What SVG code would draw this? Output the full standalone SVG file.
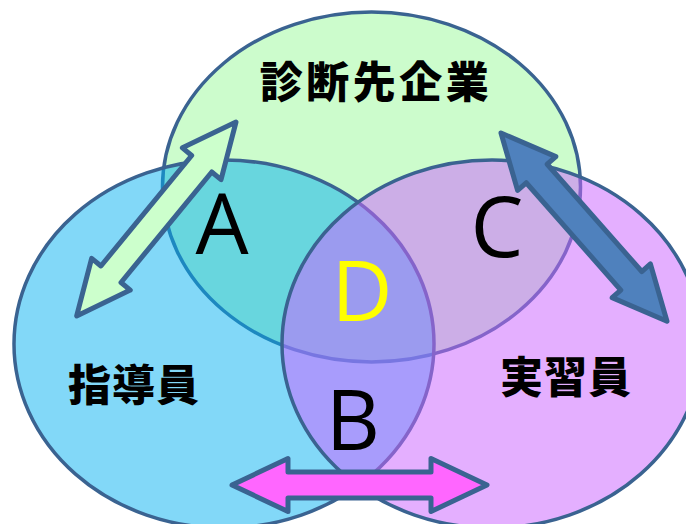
<svg xmlns="http://www.w3.org/2000/svg" width="686" height="524" viewBox="0 0 686 524">
<style>
.c{stroke:#3A6391;stroke-width:3.5}
.arr{stroke:#3A6391;stroke-width:5;stroke-linejoin:round}
.jp{font-family:"Noto Sans CJK JP","Noto Sans CJK SC",sans-serif;font-weight:900;font-size:43px;fill:#000;text-anchor:middle}
.lt{font-family:"Open Sans","Liberation Sans",sans-serif;font-size:84px;text-anchor:middle}
</style>
<rect width="686" height="524" fill="#fff"/>
<g id="node-shindan">
<ellipse class="c" cx="371.5" cy="187" rx="209" ry="175" fill="#CCFCCC"/>
</g>
<g id="node-shidouin">
<ellipse class="c" cx="224" cy="344" rx="210" ry="184" fill="#00B0F0" fill-opacity="0.49"/>
</g>
<g id="node-jisshuin">
<ellipse class="c" cx="492" cy="344" rx="210" ry="184" fill="#CC66FF" fill-opacity="0.52"/>
</g>
<g id="connectors">
<polygon class="arr" fill="#CCFFCC" transform="translate(236,122) rotate(129.4)" points="0,0 54,-25 54,-13 197,-13 197,-25 251,0 197,25 197,13 54,13 54,25"/>
<polygon class="arr" fill="#4F81BD" transform="translate(501,133) rotate(48.6)" points="0,0 54,-25.5 54,-14 197,-14 197,-25.5 251,0 197,25.5 197,14 54,14 54,25.5"/>
<polygon class="arr" fill="#FF66FF" transform="translate(232,485)" points="0,0 56,-26.5 56,-13 199,-13 199,-26.5 255,0 199,26.5 199,13 56,13 56,26.5"/>
</g>
<g id="labels">
<text class="jp" x="376" y="98" letter-spacing="3.5">診断先企業</text>
<text class="jp" x="134" y="401" letter-spacing="1">指導員</text>
<text class="jp" x="566" y="393" letter-spacing="1">実習員</text>
<text class="lt" x="222" y="254" fill="#000">A</text>
<text class="lt" x="353" y="450" fill="#000">B</text>
<text class="lt" x="497" y="257" fill="#000">C</text>
<text class="lt" x="362" y="321" fill="#FFFF00">D</text>
</g>
</svg>
